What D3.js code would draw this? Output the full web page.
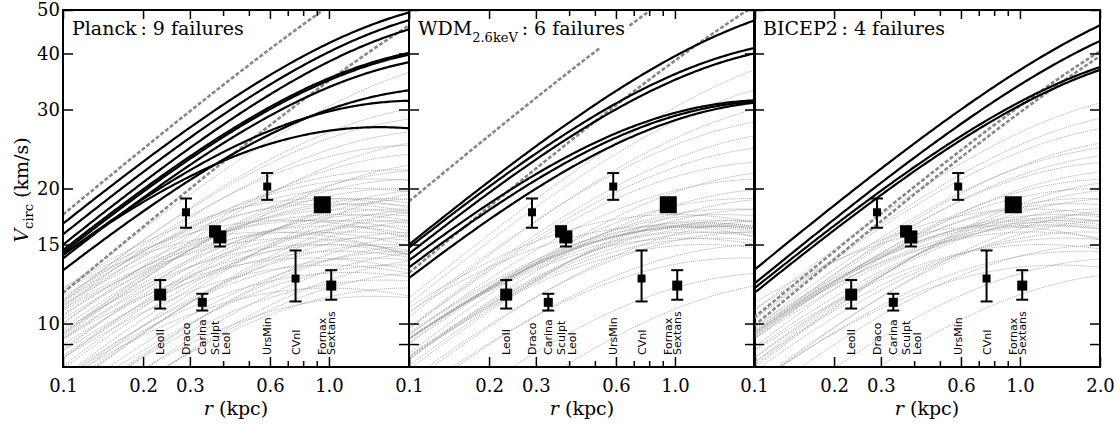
<!DOCTYPE html>
<html>
<head>
<meta charset="utf-8">
<script src="https://cdn.jsdelivr.net/npm/d3@7"></script>
<style>
  body { margin: 0; background: #fff; }
</style>
</head>
<body>
<svg id="chart" width="1120" height="425"></svg>
<script>
// --- observed dwarfs (r_1/2 in kpc, V_circ in km/s) ---
const galaxies = ["LeoII", "Draco", "Carina", "Sculpt", "LeoI", "UrsMin", "CVnI", "Fornax", "Sextans"];
const galaxyR = [0.232, 0.290, 0.334, 0.373, 0.389, 0.586, 0.749, 0.944, 1.02];
const galaxyV = [11.6, 17.7, 11.15, 16.05, 15.6, 20.2, 12.6, 18.4, 12.15];
const galaxyErrHi = [0.9, 1.3, 0.5, 0.4, 0.4, 1.45, 1.95, 0.5, 1.0];
const galaxyErrLo = [0.8, 1.35, 0.46, 0.4, 0.75, 1.33, 1.4, 0.5, 0.85];
const galaxySize = [12, 8, 9, 12, 13, 8, 8, 17, 10];

// --- panels ---
const panelNames = ["Planck", "WDM", "BICEP2"];
const panelSubs = ["", "2.6keV", ""];
const panelFailures = [9, 6, 4];

// subhalos as [Vmax (km/s), Rmax (kpc)]
const failuresPlanck = [[53.0, 4.75], [51.4, 5.0], [49.2, 5.1], [41.7, 3.8], [41.4, 3.85], [39.7, 3.75], [33.6, 2.98], [31.4, 2.15], [27.4, 1.55]];
const failuresWDM = [[53.2, 6.0], [43.0, 3.95], [41.9, 4.0], [31.5, 2.3], [31.4, 2.48], [31.4, 2.8]];
const failuresBICEP2 = [[57.9, 9.4], [52.8, 9.0], [41.4, 5.7], [41.1, 5.9]];

const excludedPlanck = [[96.7, 15], [74.5, 20]];
const excludedWDM = [[103.5, 15], [82.6, 20]];
const excludedBICEP2 = [[66, 22], [64, 19]];

const otherPlanck = [[40, 5.5], [31, 3.5], [29, 3.0], [27, 2.8], [26, 3.5], [25, 2.2], [24, 2.6], [23, 3.2], [22, 1.8], [22, 2.5],
  [21, 1.5], [21, 2.2], [20, 1.3], [20, 1.9], [20, 2.8], [19, 1.2], [19, 1.6], [19, 2.3], [18.5, 1.0], [18.5, 1.4],
  [18, 1.8], [18, 2.5], [17.5, 1.1], [17.5, 1.5], [17, 0.9], [17, 1.3], [17, 2.0], [16.5, 1.0], [16.5, 1.6], [16, 0.8],
  [16, 1.2], [16, 2.2], [15.5, 1.4], [15, 0.9], [15, 1.7], [14.5, 1.1], [14.5, 2.0], [14, 1.4], [13.5, 1.8], [13, 2.5],
  [12.5, 1.6], [16, 0.6], [17, 0.7], [15, 2.5], [14, 3.0], [16, 3.0], [13, 1.2], [12, 2.0], [18, 3.0], [20, 3.5],
  [11.5, 1.5], [12, 1.0], [13.5, 1.0], [14, 0.85], [15, 1.1], [15.5, 0.75], [14.5, 2.8], [17, 2.6], [18, 1.2], [19, 0.95]];
const otherWDM = [[42, 6.5], [36, 5], [32, 4.5], [29, 3.5], [27, 3.5], [25, 3.0], [23, 2.5], [22, 3.0], [21, 2.2], [20, 2.6],
  [19, 1.9], [19, 2.6], [18, 1.7], [18, 2.2], [17.5, 1.5], [17, 1.4], [17, 1.8], [17, 2.4], [16.5, 1.3], [16.5, 1.6],
  [16, 1.2], [16, 1.5], [16, 2.0], [15.5, 1.4], [15.5, 1.1], [15, 1.3], [15, 2.2], [14, 1.8], [13, 2.5], [12.5, 3.5],
  [16.5, 0.9], [17.5, 1.0], [16.8, 1.25], [16.6, 1.3], [16.4, 1.2], [16.7, 1.35], [16.5, 1.28]];
const otherBICEP2 = [[33, 4.5], [30, 4.0], [28, 3.5], [26, 3.5], [25, 3.0], [24, 3.0], [23, 2.6], [22, 2.8], [21, 2.3], [21, 3.2],
  [20, 2.0], [20, 2.8], [19, 1.8], [19, 2.4], [18.5, 1.6], [18, 2.0], [18, 2.8], [17.5, 1.4], [17.5, 1.9], [17, 1.2],
  [17, 1.6], [17, 2.4], [16.5, 1.3], [16, 1.1], [16, 1.8], [15.5, 1.5], [15, 1.2], [15, 2.2], [14.5, 1.7], [14, 2.5],
  [13.5, 1.4], [13, 3.0], [16.5, 0.8], [18, 1.1], [16.8, 1.2], [16.6, 1.25], [17.2, 1.3]];

const panelFailuresData = [failuresPlanck, failuresWDM, failuresBICEP2];
const panelExcluded = [excludedPlanck, excludedWDM, excludedBICEP2];
const panelOther = [otherPlanck, otherWDM, otherBICEP2];

// --- axes ticks ---
const xMajor = [0.1, 0.2, 0.3, 0.6, 1.0, 2.0];
const xMinor = [0.4, 0.5, 0.7, 0.8, 0.9];
const yMajor = [10, 15, 20, 30, 40, 50];
const yMinor = [9];

const serif = "'DejaVu Serif', serif";
const sans = "'DejaVu Sans', sans-serif";
const panelLeft = [63, 409, 754];
const panelW = 346;
const plotTop = 10, plotBottom = 367;

// NFW circular velocity curve from Vmax, Rmax
function nfwV(r, vmax, rmax) {
  const x = 2.163 * r / rmax;
  const m = Math.log(1 + x) - x / (1 + x);
  return vmax * Math.sqrt(m / x / 0.21623);
}
const rGrid = d3.range(0, 161).map(i => 0.1 * Math.pow(20, i / 160));

const svg = d3.select("#chart");
const y = d3.scaleLog().domain([8, 50]).range([plotBottom, plotTop]);

panelNames.forEach((name, i) => {
  const left = panelLeft[i];
  const x = d3.scaleLog().domain([0.1, 2.0]).range([left, left + panelW]);
  const g = svg.append("g");

  g.append("clipPath").attr("id", "clip" + i)
    .append("rect").attr("x", left).attr("y", plotTop).attr("width", panelW).attr("height", plotBottom - plotTop);

  const line = d3.line().x(d => x(d[0])).y(d => y(d[1]));
  const curve = p => rGrid.map(r => [r, nfwV(r, p[0], p[1])]);

  const plot = g.append("g").attr("clip-path", `url(#clip${i})`);

  plot.selectAll("path.other").data(panelOther[i]).enter().append("path")
    .attr("class", "other")
    .attr("d", d => line(curve(d)))
    .attr("fill", "none").attr("stroke", "#969696").attr("stroke-width", 0.8)
    .attr("stroke-dasharray", "1 1");

  plot.selectAll("path.excl").data(panelExcluded[i]).enter().append("path")
    .attr("class", "excl")
    .attr("d", d => line(curve(d)))
    .attr("fill", "none").attr("stroke", "#888").attr("stroke-width", 2.6)
    .attr("stroke-dasharray", "4 2");

  plot.selectAll("path.fail").data(panelFailuresData[i]).enter().append("path")
    .attr("class", "fail")
    .attr("d", d => line(curve(d)))
    .attr("fill", "none").attr("stroke", "#000").attr("stroke-width", 2.2);

  // title with white box
  const title = g.append("text").attr("x", left + 9).attr("y", 35)
    .attr("font-family", serif).attr("font-size", 19).attr("fill", "#000");
  title.append("tspan").text(name);
  if (panelSubs[i]) {
    title.append("tspan").attr("font-size", 13).attr("dy", 7).text(panelSubs[i]);
    title.append("tspan").attr("dy", -7).text("\u2009: " + panelFailures[i] + " failures");
  } else {
    title.append("tspan").text("\u2009: " + panelFailures[i] + " failures");
  }
  const bb = title.node().getBBox();
  const boxTop = Math.max(plotTop + 1, bb.y - 2);
  g.insert("rect", () => title.node())
    .attr("x", bb.x - 4).attr("y", boxTop)
    .attr("width", bb.width + 7).attr("height", bb.y + bb.height + 3 - boxTop)
    .attr("fill", "#fff");

  // data points
  const pts = galaxies.map((n, k) => ({ n, r: galaxyR[k], v: galaxyV[k], hi: galaxyErrHi[k], lo: galaxyErrLo[k], s: galaxySize[k] }));
  const pg = g.append("g");
  pts.forEach(p => {
    const cx = x(p.r);
    pg.append("line").attr("x1", cx).attr("x2", cx).attr("y1", y(p.v + p.hi)).attr("y2", y(p.v - p.lo))
      .attr("stroke", "#000").attr("stroke-width", 2);
    [p.v + p.hi, p.v - p.lo].forEach(v => {
      pg.append("line").attr("x1", cx - 6).attr("x2", cx + 6).attr("y1", y(v)).attr("y2", y(v))
        .attr("stroke", "#000").attr("stroke-width", 2);
    });
    pg.append("rect").attr("x", cx - p.s / 2).attr("y", y(p.v) - p.s / 2)
      .attr("width", p.s).attr("height", p.s).attr("fill", "#000");
    pg.append("text")
      .attr("transform", `translate(${cx + (p.n === "LeoI" ? 6 : 0)},355) rotate(-90)`)
      .attr("dy", "0.36em")
      .attr("font-family", sans).attr("font-size", 11).attr("fill", "#000")
      .text(p.n);
  });

  // axes
  const xLabels = i === 2 ? xMajor : xMajor.filter(v => v < 2);
  const fmt = d3.format(".1f");
  const styleAxis = a => {
    a.select(".domain").remove();
    a.selectAll("line").attr("stroke-width", 1.5);
    a.selectAll("text").attr("font-family", serif).attr("font-size", 18).attr("fill", "#000");
  };
  g.append("g").attr("transform", `translate(0,${plotBottom})`)
    .call(d3.axisBottom(x).tickValues(xMajor).tickSize(-10).tickPadding(12)
      .tickFormat(v => xLabels.includes(v) ? fmt(v) : ""))
    .call(styleAxis);
  g.append("g").attr("transform", `translate(0,${plotBottom})`)
    .call(d3.axisBottom(x).tickValues(xMinor).tickSize(-6).tickFormat(""))
    .call(styleAxis);
  g.append("g").attr("transform", `translate(0,${plotTop})`)
    .call(d3.axisTop(x).tickValues(xMajor).tickSize(-9).tickFormat(""))
    .call(styleAxis);
  g.append("g").attr("transform", `translate(0,${plotTop})`)
    .call(d3.axisTop(x).tickValues(xMinor).tickSize(-6).tickFormat(""))
    .call(styleAxis);

  g.append("g").attr("transform", `translate(${left},0)`)
    .call(d3.axisLeft(y).tickValues(yMajor.concat(yMinor)).tickSize(-10).tickPadding(3)
      .tickFormat(v => i === 0 && yMajor.includes(v) ? String(v) : ""))
    .call(styleAxis);
  g.append("g").attr("transform", `translate(${left + panelW},0)`)
    .call(d3.axisRight(y).tickValues(yMajor.concat(yMinor)).tickSize(-10).tickFormat(""))
    .call(styleAxis);

  // frame
  g.append("rect").attr("x", left).attr("y", plotTop).attr("width", panelW).attr("height", plotBottom - plotTop)
    .attr("fill", "none").attr("stroke", "#000").attr("stroke-width", 2);

  // x label
  const xl = g.append("text").attr("x", left + panelW / 2).attr("y", 415).attr("text-anchor", "middle")
    .attr("font-family", serif).attr("font-size", 19).attr("fill", "#000");
  xl.append("tspan").attr("font-style", "italic").text("r");
  xl.append("tspan").text(" (kpc)");
});

// y label
const yl = svg.append("text").attr("transform", "translate(28,190) rotate(-90)").attr("text-anchor", "middle")
  .attr("font-family", serif).attr("font-size", 19).attr("fill", "#000");
yl.append("tspan").attr("font-style", "italic").text("V");
yl.append("tspan").attr("font-size", 13).attr("dy", 5).text("circ");
yl.append("tspan").attr("dy", -5).text(" (km/s)");
</script>
</body>
</html>
